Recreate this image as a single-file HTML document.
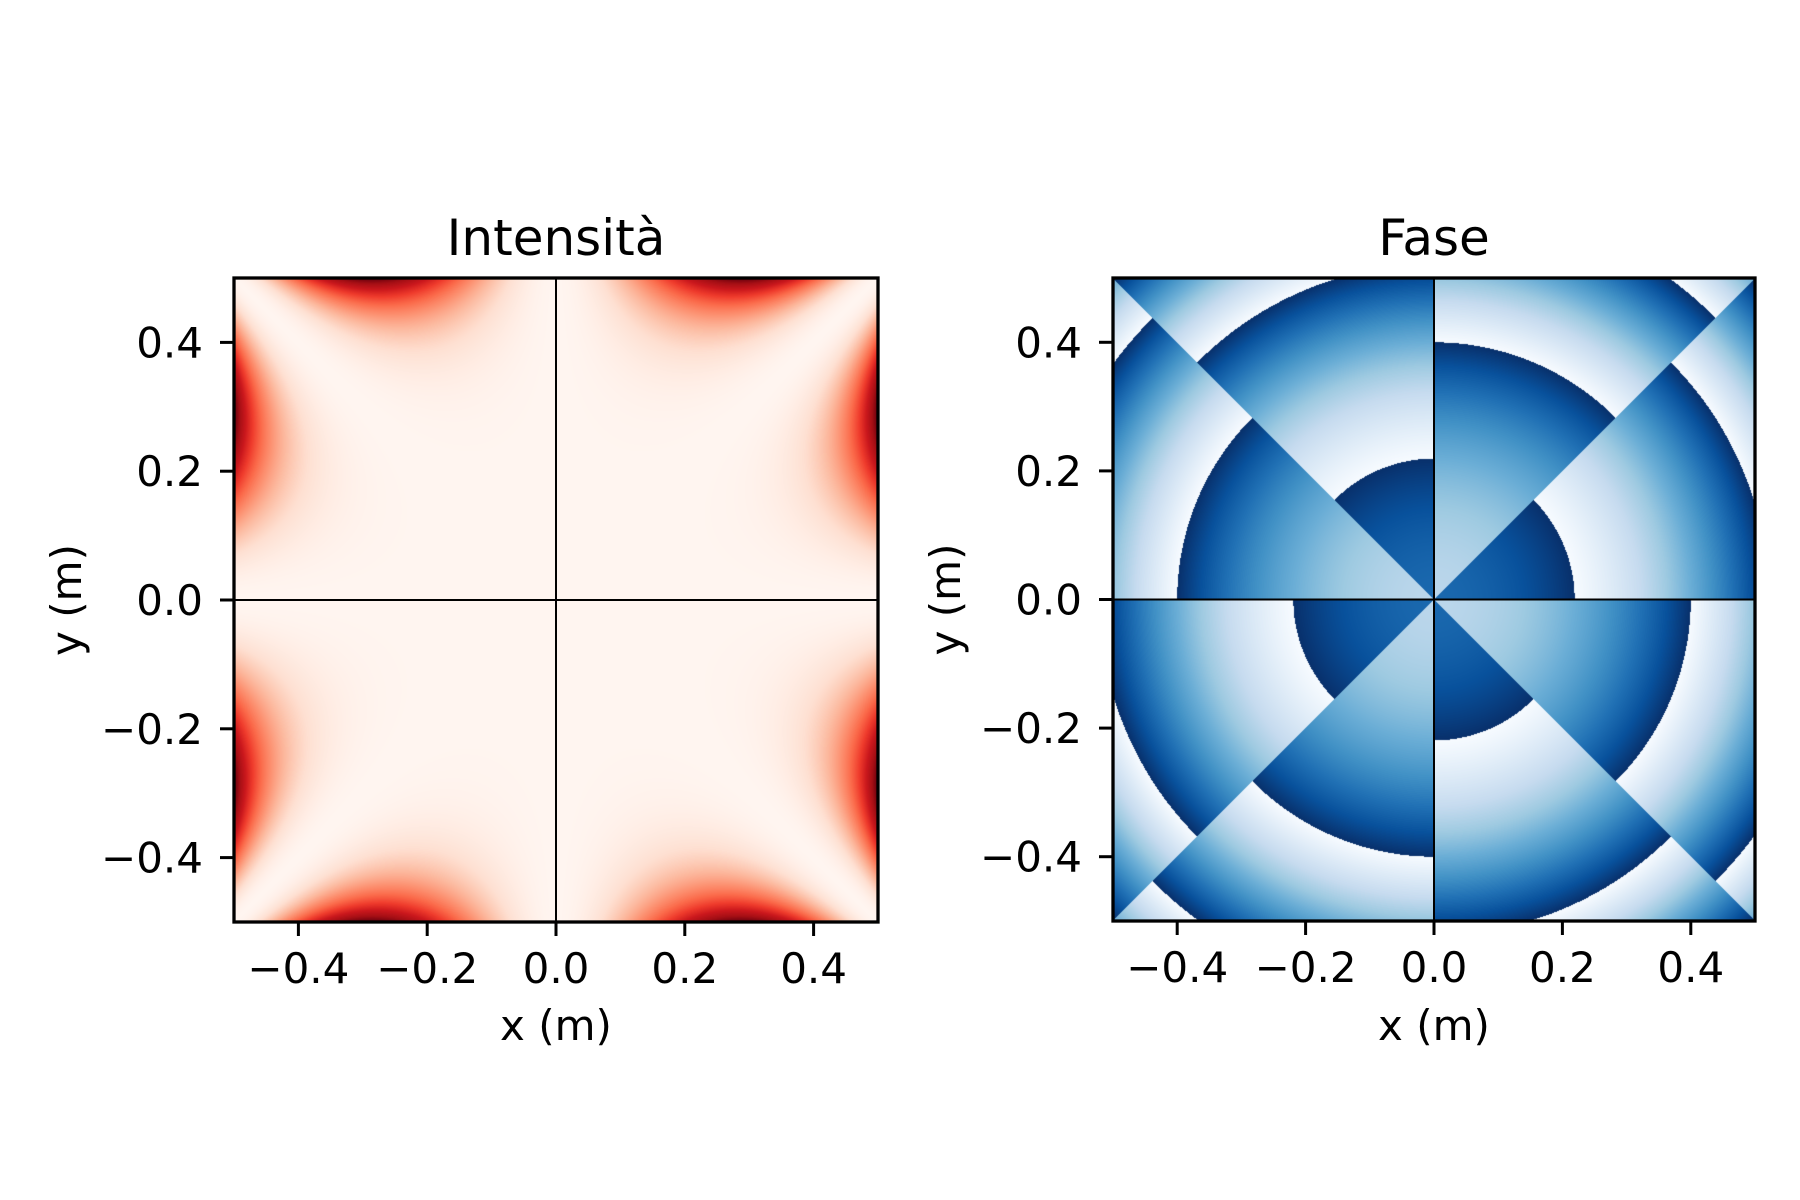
<!DOCTYPE html>
<html><head><meta charset="utf-8"><style>
html,body{margin:0;padding:0;background:#fff;}
#wrap{position:relative;width:1800px;height:1200px;overflow:hidden;}
canvas{position:absolute;}
svg{position:absolute;left:0;top:0;}
text{font-family:"DejaVu Sans","Liberation Sans",sans-serif;fill:#000;}
</style></head><body>
<div id="wrap">
<canvas id="c1" width="644" height="644" style="left:234px;top:278px"></canvas>
<canvas id="c2" width="642" height="643" style="left:1113px;top:278px"></canvas>
<svg id="s" width="1800" height="1200"></svg>
</div>
<script>
// tick data
const xTicks = [-0.4, -0.2, 0.0, 0.2, 0.4];
const yTicks = [-0.4, -0.2, 0.0, 0.2, 0.4];
const tickLabels = ["\u22120.4", "\u22120.2", "0.0", "0.2", "0.4"];
const titles = ["Intensità", "Fase"];
const extent = [-0.5, 0.5];
// field model parameters
const radialPower = [8];
const phasePeriodR2 = [0.224];
const phaseBoundaryR2 = [0.048];

const reds = ["#fff5f0","#fee0d2","#fcbba1","#fc9272","#fb6a4a","#ef3b2c","#cb181d","#a50f15","#67000d"];
const blues = ["#f7fbff","#deebf7","#c6dbef","#9ecae1","#6baed6","#4292c6","#2171b5","#08519c","#08306b"];
function hex(h){return [parseInt(h.substr(1,2),16),parseInt(h.substr(3,2),16),parseInt(h.substr(5,2),16)];}
const R = reds.map(hex), B = blues.map(hex);
function cmap(m, v){v=Math.max(0,Math.min(1,v));const t=v*(m.length-1);const i=Math.min(m.length-2,Math.floor(t));const f=t-i;
 return [m[i][0]+(m[i+1][0]-m[i][0])*f,m[i][1]+(m[i+1][1]-m[i][1])*f,m[i][2]+(m[i+1][2]-m[i][2])*f];}

function drawImg(id, fn, cm){
 const c=document.getElementById(id), ctx=c.getContext('2d'), W=c.width, H=c.height;
 const img=ctx.createImageData(W,H);
 const vals=new Float32Array(W*H); let mx=-1e9, mn=1e9;
 for(let j=0;j<H;j++)for(let i=0;i<W;i++){
  const x=extent[0]+(i+0.5)/W*(extent[1]-extent[0]);
  const y=extent[1]-(j+0.5)/H*(extent[1]-extent[0]);
  const v=fn(x,y); vals[j*W+i]=v; if(v>mx)mx=v; if(v<mn)mn=v;}
 for(let k=0;k<W*H;k++){const col=cmap(cm,(vals[k]-mn)/(mx-mn||1));
  img.data[4*k]=col[0];img.data[4*k+1]=col[1];img.data[4*k+2]=col[2];img.data[4*k+3]=255;}
 ctx.putImageData(img,0,0);
}
drawImg('c1',(x,y)=>{const r=Math.hypot(x,y),th=Math.atan2(y,x);const s=Math.sin(4*th);return Math.pow(r,radialPower[0])*s*s;},R);
drawImg('c2',(x,y)=>{const r2=x*x+y*y;let th=Math.atan2(y,x);if(th<0)th+=2*Math.PI;
 const oct=Math.floor(th/(Math.PI/4))%8;let v=(r2-phaseBoundaryR2[0])/phasePeriodR2[0]+0.5*(oct%2);
 v=v-Math.floor(v);return v;},B);

const svg=document.getElementById('s'), NS="http://www.w3.org/2000/svg";
function mk(tag,attrs,parent){const e=document.createElementNS(NS,tag);for(const k in attrs)e.setAttribute(k,attrs[k]);(parent||svg).appendChild(e);return e;}
const panels=[{L:234,T:278,W:644,H:644},{L:1113,T:278,W:642,H:643}];
panels.forEach((p,pi)=>{
 const g=mk('g',{});
 
 
 const sx=v=>p.L+(v-extent[0])/(extent[1]-extent[0])*p.W;
 const sy=v=>p.T+(extent[1]-v)/(extent[1]-extent[0])*p.H;
 const cx=mk('line',{x1:sx(0),x2:sx(0),y1:p.T,y2:p.T+p.H,stroke:'#000','stroke-width':2},g);
 
 
 const cy=mk('line',{x1:p.L,x2:p.L+p.W,y1:sy(0),y2:sy(0),stroke:'#000','stroke-width':2},g);
 
 
 const fr=mk('rect',{x:p.L,y:p.T,width:p.W,height:p.H,fill:'none',stroke:'#000','stroke-width':3.3},g);
 
 
 xTicks.forEach((v,i)=>{
  const t=mk('line',{x1:sx(v),x2:sx(v),y1:p.T+p.H,y2:p.T+p.H+14,stroke:'#000','stroke-width':3},g);
  
  
  const l=mk('text',{x:sx(v),y:p.T+p.H+61,'font-size':42,'text-anchor':'middle'},g);
  l.textContent=tickLabels[i];
  
  
 });
 yTicks.forEach((v,i)=>{
  const t=mk('line',{x1:p.L-14,x2:p.L,y1:sy(v),y2:sy(v),stroke:'#000','stroke-width':3},g);
  
  
  const l=mk('text',{x:p.L-31,y:sy(v)+15,'font-size':42,'text-anchor':'end'},g);
  l.textContent=tickLabels[i];
  
  
 });
 const xl=mk('text',{x:p.L+p.W/2,y:1040,'font-size':42,'text-anchor':'middle'},g);
 xl.textContent='x (m)';
 
 
 const yl=mk('text',{x:0,y:0,'font-size':42,'text-anchor':'middle',transform:`translate(${p.L-153},${p.T+p.H/2}) rotate(-90)`},g);
 yl.textContent='y (m)';
 
 
 const tt=mk('text',{x:p.L+p.W/2,y:255,'font-size':50,'text-anchor':'middle'},g);
 tt.textContent=titles[pi];
 
 
});
</script>
</body></html>
